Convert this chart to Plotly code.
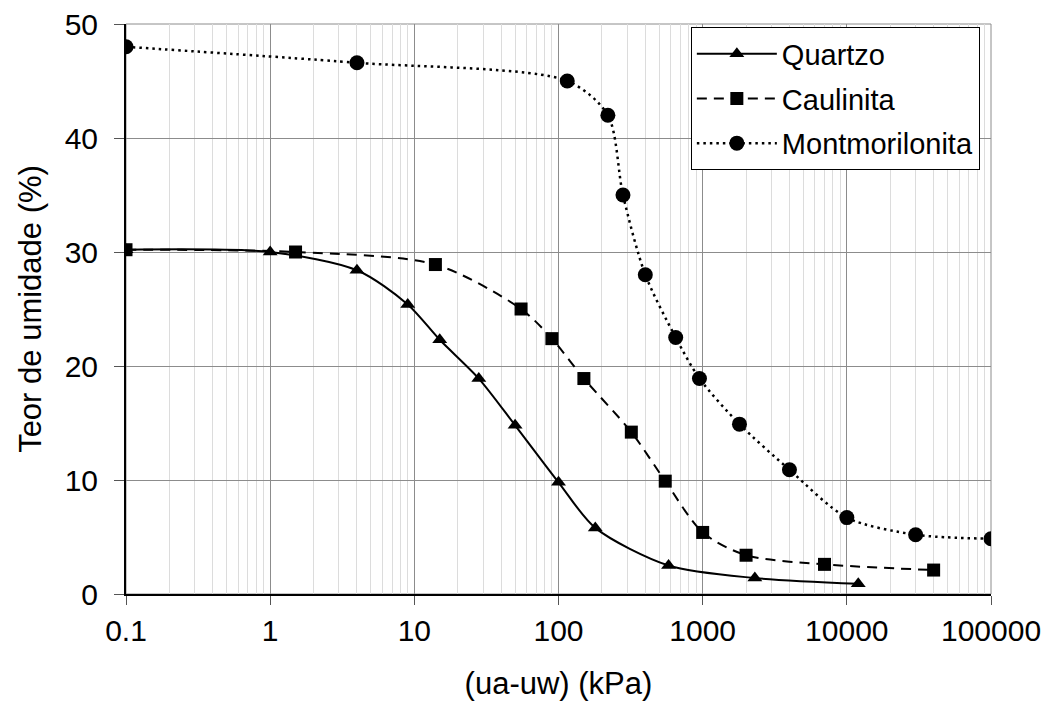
import plotly.graph_objects as go

# ---- data ----
quartzo_x = [0.1, 1, 4, 9, 15, 28, 50, 100, 180, 580, 2300, 12000]
quartzo_y = [30.2, 30.0, 28.4, 25.4, 22.3, 18.9, 14.8, 9.8, 5.8, 2.5, 1.4, 0.9]

caulinita_x = [0.1, 1.5, 14, 55, 90, 150, 320, 550, 1000, 2000, 7000, 40000]
caulinita_y = [30.2, 30.0, 28.9, 25.0, 22.4, 18.9, 14.2, 9.9, 5.4, 3.4, 2.6, 2.1]

montmo_x = [0.1, 4, 115, 220, 280, 400, 650, 950, 1800, 4000, 10000, 30000, 100000]
montmo_y = [48.0, 46.6, 45.0, 42.0, 35.0, 28.0, 22.5, 18.9, 14.9, 10.9, 6.7, 5.2, 4.85]

x_tickvals = [0.1, 1, 10, 100, 1000, 10000, 100000]
x_ticktext = ["0.1", "1", "10", "100", "1000", "10000", "100000"]
y_tickvals = [0, 10, 20, 30, 40, 50]

FONT = "Arial, Liberation Sans, sans-serif"

fig = go.Figure()
fig.add_trace(go.Scatter(
    x=quartzo_x, y=quartzo_y, name="Quartzo", mode="lines+markers",
    line=dict(color="black", width=2, shape="spline", smoothing=0.8),
    marker=dict(symbol="triangle-up", size=13, color="black"),
    legendgroup="a",
))
fig.add_trace(go.Scatter(
    x=caulinita_x, y=caulinita_y, name="Caulinita", mode="lines+markers",
    line=dict(color="black", width=2, shape="spline", smoothing=0.8, dash="10px,7px"),
    marker=dict(symbol="square", size=13, color="black"),
    legendgroup="b",
))
fig.add_trace(go.Scatter(
    x=montmo_x, y=montmo_y, name="Montmorilonita", mode="lines+markers",
    line=dict(color="black", width=2.5, shape="spline", smoothing=0.8, dash="2.5px,4px"),
    marker=dict(symbol="circle", size=15, color="black"),
    legendgroup="c",
))

fig.update_layout(
    width=1046, height=701,
    margin=dict(l=126, r=55, t=24, b=107, autoexpand=False),
    paper_bgcolor="white", plot_bgcolor="white",
    font=dict(family=FONT, size=29, color="black"),
    showlegend=True,
    legend=dict(
        x=0.653, y=0.994, xanchor="left", yanchor="top",
        bgcolor="white", bordercolor="black", borderwidth=1,
        font=dict(family=FONT, size=29, color="black"),
        tracegroupgap=4, itemwidth=80,
    ),
)

fig.update_xaxes(
    type="log", range=[-1, 5], automargin=False,
    tickvals=x_tickvals, ticktext=x_ticktext,
    showgrid=True, gridcolor="#8c8c8c", gridwidth=1,
    minor=dict(showgrid=True, gridcolor="#dcdcdc", gridwidth=1, dtick="D1"),
    showline=True, linecolor="black", linewidth=2,
    ticks="outside", ticklen=9, tickcolor="#555555", tickwidth=1,
    tickfont=dict(family=FONT, size=30),
    title=dict(text="(ua-uw) (kPa)", font=dict(family=FONT, size=31), standoff=26),
    zeroline=False,
)
fig.update_yaxes(
    range=[0, 50], automargin=False, tickvals=y_tickvals,
    showgrid=True, gridcolor="#8c8c8c", gridwidth=1,
    showline=True, linecolor="black", linewidth=2,
    ticks="outside", ticklen=10, tickcolor="#555555", tickwidth=1,
    ticklabelstandoff=10,
    tickfont=dict(family=FONT, size=30),
    title=dict(text="Teor de umidade (%)", font=dict(family=FONT, size=31), standoff=14),
    zeroline=False,
)

# thin gray frame around the plotting area (top and right edges)
fig.update_layout(
    shapes=[dict(type="rect", xref="paper", yref="paper", x0=0, y0=0, x1=1, y1=1,
                 line=dict(color="#8c8c8c", width=1), layer="below")]
)

fig.write_html("out.html")
